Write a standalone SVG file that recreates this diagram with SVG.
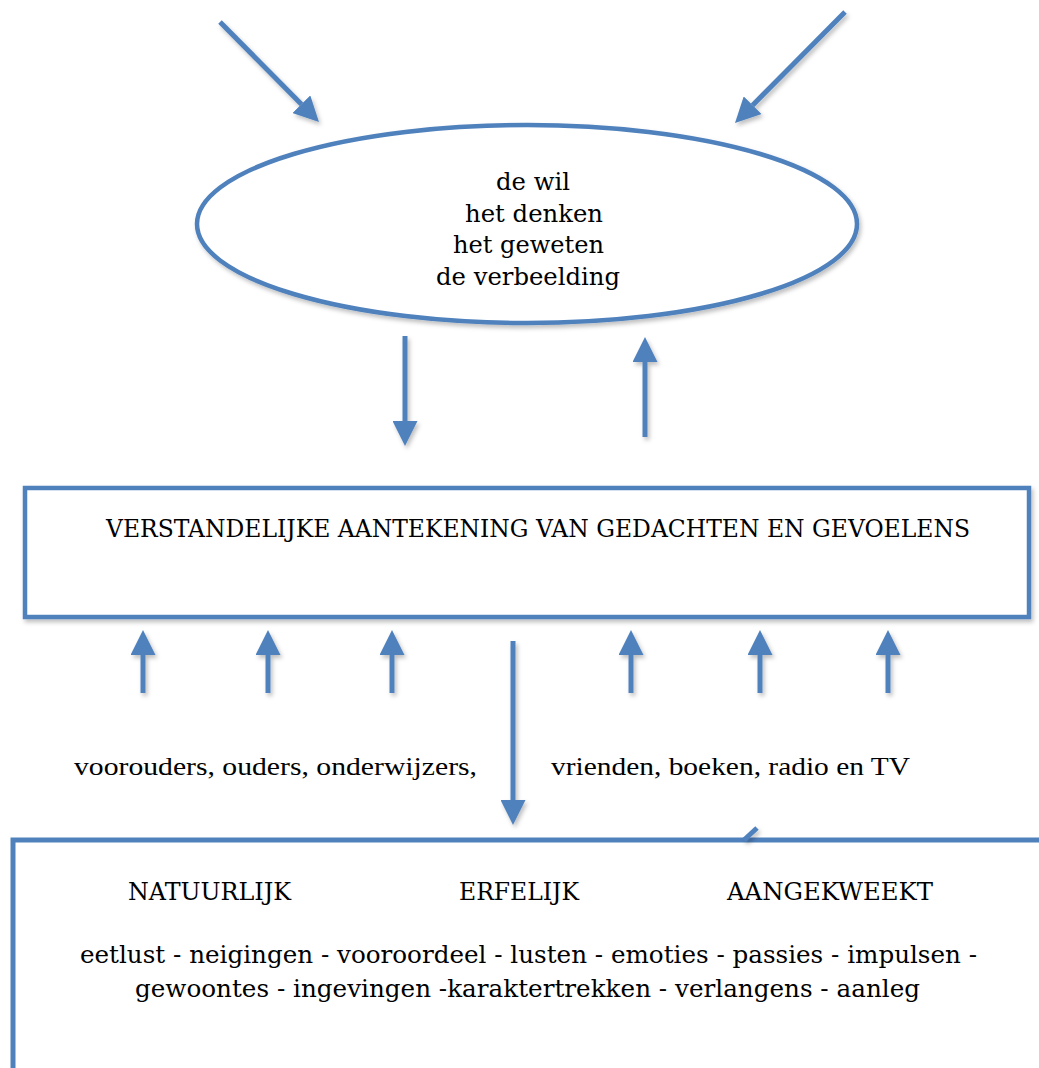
<svg xmlns="http://www.w3.org/2000/svg" width="1039" height="1068" viewBox="0 0 1039 1068">
<defs>
<style>
.ln{stroke:#4F81BD;stroke-width:5;fill:none}
.bx{stroke:#4F81BD;stroke-width:4.5;fill:#fff}
.ar{stroke:#4F81BD;stroke-width:5;fill:none;marker-end:url(#ah)}
.t{font-family:"Liberation Serif","Times New Roman",serif;font-size:26px;fill:#000}
.k{font-family:"DejaVu Serif","Liberation Serif",serif;font-size:25px;fill:#000}
.c{text-anchor:middle}
</style>
<marker id="ah" viewBox="0 0 25 25" markerWidth="25" markerHeight="25" markerUnits="userSpaceOnUse" refX="0" refY="12.5" orient="auto">
<path d="M0,0 L25,12.5 L0,25 Z" fill="#4F81BD"/>
</marker>
<filter id="sh" x="-10%" y="-10%" width="130%" height="130%">
<feDropShadow dx="2" dy="3" stdDeviation="2" flood-color="#000" flood-opacity="0.25"/>
</filter>
</defs>
<rect width="1039" height="1068" fill="#fff"/>

<g id="ellipse-node">
<ellipse cx="527" cy="224" rx="330" ry="99" class="bx" filter="url(#sh)"/>
<text class="k" x="496" y="190" textLength="74" lengthAdjust="spacingAndGlyphs">de wil</text>
<text class="k" x="465" y="222" textLength="138" lengthAdjust="spacingAndGlyphs">het denken</text>
<text class="k" x="453" y="253" textLength="151" lengthAdjust="spacingAndGlyphs">het geweten</text>
<text class="k" x="436" y="285" textLength="184" lengthAdjust="spacingAndGlyphs">de verbeelding</text>
</g>

<g id="rect-node">
<rect x="25" y="488" width="1004" height="129" class="bx" filter="url(#sh)"/>
<text class="k" x="106" y="537" font-size="24" textLength="864" lengthAdjust="spacingAndGlyphs">VERSTANDELIJKE  AANTEKENING VAN GEDACHTEN EN GEVOELENS</text>
</g>

<g id="labels">
<text class="t" x="74" y="775" textLength="403" lengthAdjust="spacingAndGlyphs">voorouders,  ouders,  onderwijzers,</text>
<text class="t" x="551" y="775" textLength="359" lengthAdjust="spacingAndGlyphs">vrienden, boeken, radio en TV</text>
</g>

<g id="bottom-node">
<path d="M13,1068 L13,840 L1039,840" class="ln" stroke-width="4.5"/>
<text class="k" x="128" y="900" textLength="163" lengthAdjust="spacingAndGlyphs">NATUURLIJK</text>
<text class="k" x="459" y="900" textLength="120" lengthAdjust="spacingAndGlyphs">ERFELIJK</text>
<text class="k" x="727" y="900" textLength="206" lengthAdjust="spacingAndGlyphs">AANGEKWEEKT</text>
<text class="k" x="80" y="963" textLength="897" lengthAdjust="spacingAndGlyphs">eetlust - neigingen - vooroordeel - lusten - emoties - passies - impulsen -</text>
<text class="k" x="135" y="997" textLength="785" lengthAdjust="spacingAndGlyphs">gewoontes - ingevingen -karaktertrekken  - verlangens - aanleg</text>
</g>

<g id="connectors" filter="url(#sh)">
<line x1="220" y1="22" x2="301.4" y2="104.2" class="ar"/>
<line x1="845" y1="12" x2="752.6" y2="105.2" class="ar"/>
<line x1="405" y1="336" x2="405" y2="421" class="ar"/>
<line x1="645" y1="437" x2="645" y2="362" class="ar"/>
<line x1="143" y1="693" x2="143" y2="655" class="ar"/>
<line x1="268" y1="693" x2="268" y2="655" class="ar"/>
<line x1="392" y1="693" x2="392" y2="655" class="ar"/>
<line x1="631" y1="693" x2="631" y2="655" class="ar"/>
<line x1="760" y1="693" x2="760" y2="655" class="ar"/>
<line x1="888" y1="693" x2="888" y2="655" class="ar"/>
<line x1="513" y1="641" x2="513" y2="800" class="ar"/>
<line x1="744" y1="840" x2="757" y2="828" class="ln" stroke-width="4"/>
</g>
</svg>
